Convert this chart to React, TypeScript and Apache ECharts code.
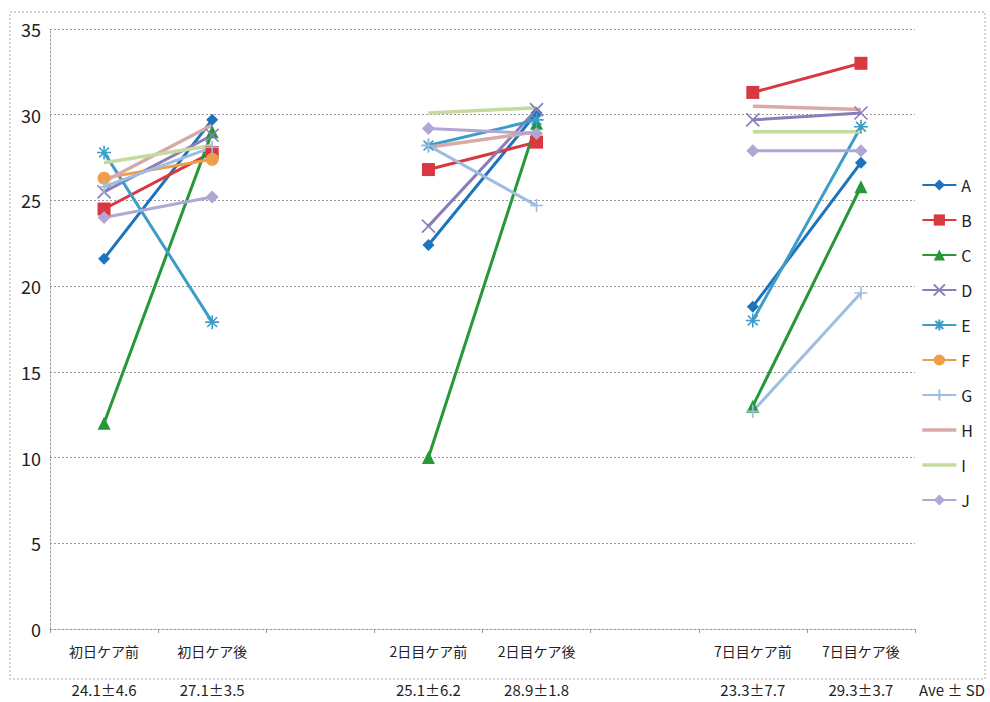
import React, { useEffect, useRef } from "react";
import * as echarts from "echarts";

const categories = ["初日ケア前", "初日ケア後", "", "2日目ケア前", "2日目ケア後", "", "7日目ケア前", "7日目ケア後"];
const stats = ["24.1±4.6", "27.1±3.5", "", "25.1±6.2", "28.9±1.8", "", "23.3±7.7", "29.3±3.7"];
const yTicks = [0, 5, 10, 15, 20, 25, 30, 35];

const seriesA = [21.6, 29.7, null, 22.4, 30.1, null, 18.8, 27.2];
const seriesB = [24.5, 27.8, null, 26.8, 28.4, null, 31.3, 33.0];
const seriesC = [12.0, 29.0, null, 10.0, 29.5, null, 13.0, 25.8];
const seriesD = [25.5, 28.8, null, 23.5, 30.3, null, 29.7, 30.1];
const seriesE = [27.8, 17.9, null, 28.2, 29.7, null, 18.0, 29.3];
const seriesF = [26.3, 27.4, null, null, null, null, null, null];
const seriesG = [25.8, 28.1, null, 28.2, 24.7, null, 12.7, 19.6];
const seriesH = [26.1, 29.4, null, 28.1, 29.0, null, 30.5, 30.3];
const seriesI = [27.2, 28.2, null, 30.1, 30.4, null, 29.0, 29.0];
const seriesJ = [24.0, 25.2, null, 29.2, 28.9, null, 27.9, 27.9];

const names = ["A", "B", "C", "D", "E", "F", "G", "H", "I", "J"];
const values = [seriesA, seriesB, seriesC, seriesD, seriesE, seriesF, seriesG, seriesH, seriesI, seriesJ];

const colors = ["#1b74bd", "#d8383f", "#27983a", "#8a7db8", "#3c9dc6", "#ee9d4a", "#9fbde2", "#d8a9a9", "#c5da9f", "#b1a6d5"];
const X_PATH = "path://M0,0L10,10M10,0L0,10";
const AST_PATH = "path://M0,5L10,5M5,0L5,10M1.5,1.5L8.5,8.5M8.5,1.5L1.5,8.5";
const PLUS_PATH = "path://M0,5L10,5M5,0L5,10";
const BAR_ICON = "path://M0,0L34,0L34,3.5L0,3.5Z";
const symbols = ["diamond", "rect", "triangle", X_PATH, AST_PATH, "circle", PLUS_PATH, "none", "none", "diamond"];
const symbolSizes = [12, 13, 13, 13, 14, 13, 13, 0, 0, 13];
const lineWidths = [3, 3, 3, 3, 3, 3, 3, 3.5, 3.5, 3];

const FONT = "'Noto Sans CJK JP', 'Noto Sans', sans-serif";

export default function App() {
  const ref = useRef<HTMLDivElement>(null);
  useEffect(() => {
    if (!ref.current) return;
    const chart = echarts.init(ref.current, null, { renderer: "svg" });
    const series = names.map((n, i) => {
      const stroke = symbols[i].startsWith("path://");
      return {
        name: n,
        type: "line",
        data: values[i],
        connectNulls: false,
        symbol: symbols[i],
        symbolSize: symbolSizes[i],
        showSymbol: symbols[i] !== "none",
        lineStyle: { color: colors[i], width: lineWidths[i] },
        itemStyle: stroke
          ? { color: "rgba(0,0,0,0)", borderColor: colors[i], borderWidth: 1.6 }
          : { color: colors[i], borderWidth: 0 },
        emphasis: { disabled: true },
      };
    });
    const legendData = names.map((n, i) =>
      symbols[i] === "none"
        ? { name: n, icon: BAR_ICON, itemStyle: { color: colors[i] } }
        : { name: n }
    );
    chart.setOption({
      animation: false,
      backgroundColor: "#ffffff",
      textStyle: { fontFamily: FONT },
      grid: { left: 50, right: 75, top: 29, bottom: 73 },
      legend: {
        orient: "vertical",
        right: 12,
        top: 172,
        itemWidth: 34,
        itemHeight: 14,
        itemGap: 19,
        symbolKeepAspect: true,
        data: legendData,
        textStyle: { fontSize: 16, color: "#222" },
      },
      xAxis: [
        {
          type: "category",
          data: categories,
          boundaryGap: true,
          axisLine: { lineStyle: { color: "#999", type: [2, 2], width: 1 } },
          axisTick: { show: true, length: 4, lineStyle: { color: "#999" } },
          axisLabel: { fontSize: 14, color: "#222", margin: 15, interval: 0 },
          splitLine: { show: false },
        },
        {
          type: "category",
          data: stats,
          position: "bottom",
          boundaryGap: true,
          axisLine: { show: false },
          axisTick: { show: false },
          axisLabel: { fontSize: 15, color: "#222", margin: 53, interval: 0 },
          splitLine: { show: false },
        },
      ],
      yAxis: {
        type: "value",
        min: yTicks[0],
        max: yTicks[yTicks.length - 1],
        interval: 5,
        axisLine: { show: true, lineStyle: { color: "#999", type: [2, 2], width: 1 } },
        axisTick: { show: false },
        axisLabel: { fontSize: 18, color: "#222", margin: 9 },
        splitLine: { lineStyle: { color: "#999", type: [2, 2], width: 1 } },
      },
      graphic: [
        {
          type: "rect",
          shape: { x: 10, y: 12, width: 975, height: 667 },
          style: { fill: "none", stroke: "#aaa", lineWidth: 1, lineDash: [2, 2] },
          silent: true,
        },
        {
          type: "text",
          x: 919,
          y: 682,
          style: { text: "Ave ± SD", fill: "#222", font: "15px " + FONT },
          silent: true,
        },
      ],
      series,
    });
    return () => chart.dispose();
  }, []);
  return <div ref={ref} style={{ position: "fixed", left: 0, top: 0, width: 990, height: 702 }} />;
}
